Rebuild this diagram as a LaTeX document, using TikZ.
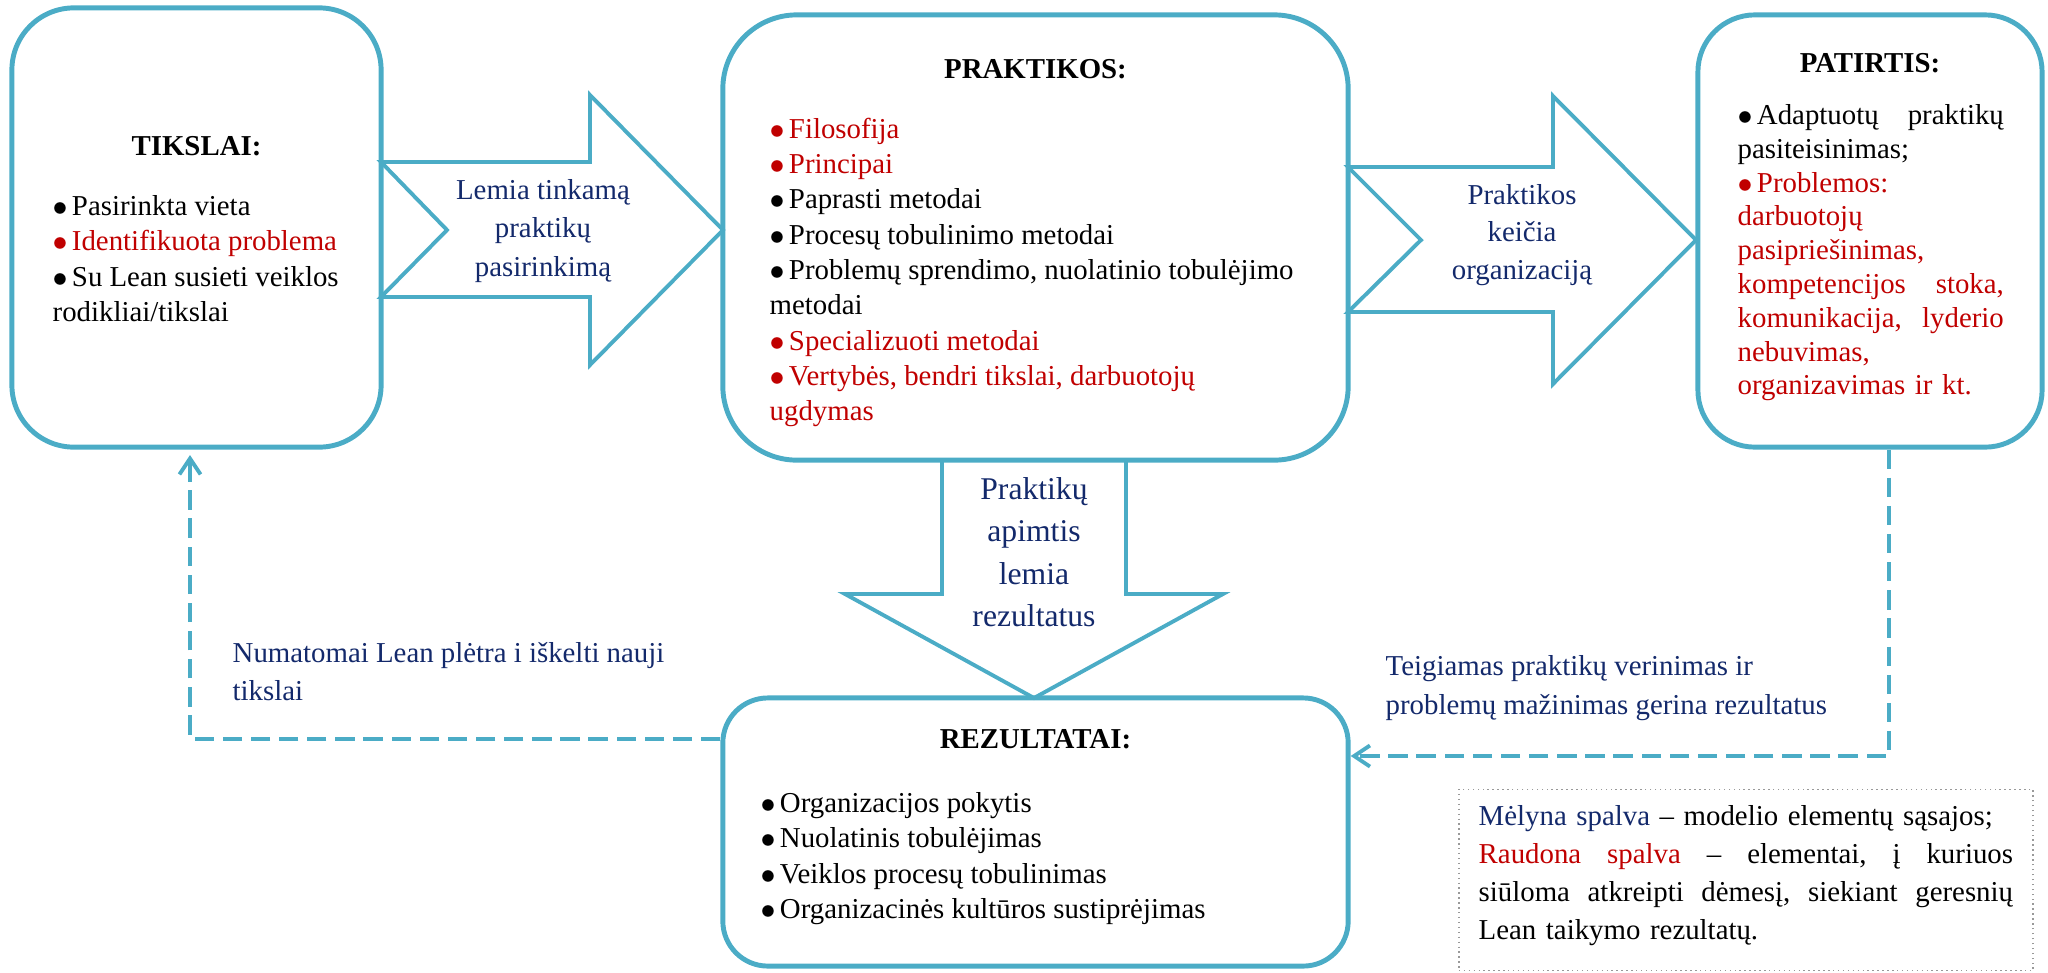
\documentclass[tikz,border=0pt]{standalone}
\usepackage{fontspec}
\setmainfont{Liberation Serif}
\usepackage{xcolor}
\usepackage{tikz}
\usetikzlibrary{arrows.meta,positioning}
\definecolor{boxblue}{HTML}{4BACC6}
\definecolor{linkblue}{HTML}{13296B}
\definecolor{warnred}{HTML}{C00000}
\newcommand{\redtext}[1]{\textcolor{warnred}{#1}}
\newcommand{\bluetext}[1]{\textcolor{linkblue}{#1}}
\newcommand{\blt}{$\bullet$\hspace{0.15em}}

\begin{document}
\begin{tikzpicture}[x=0.01cm, y=-0.01cm,
    box/.style={draw=boxblue, line width=1.4pt, inner sep=0pt},
    blockarrow/.style={draw=boxblue, line width=1.1pt, line join=miter},
    link/.style={draw=boxblue, line width=1.1pt, dash pattern=on 5.5pt off 2.5pt,
      -{Straight Barb[length=4.5pt,width=6pt]}},
    heading/.style={font=\bfseries\fontsize{8.2}{10}\selectfont, inner sep=0pt},
    items/.style={font=\fontsize{8.2}{10}\selectfont, align=left, inner sep=0pt, anchor=north west},
    linklabel/.style={text=linkblue, font=\fontsize{8.2}{10.9}\selectfont, align=center, inner sep=0pt}]

    \useasboundingbox (0,0) rectangle (2048,972);

    \node[box, rounded corners=0.62cm, minimum width=3.69cm, minimum height=4.39cm] (tikslai) at (196.5,227.5) {};
    \node[box, rounded corners=0.74cm, minimum width=6.25cm, minimum height=4.45cm] (praktikos) at (1035.5,237.5) {};
    \node[box, rounded corners=0.57cm, minimum width=3.44cm, minimum height=4.32cm] (patirtis) at (1870,231) {};
    \node[box, rounded corners=0.45cm, minimum width=6.25cm, minimum height=2.68cm] (rezultatai) at (1035.5,832) {};
    \node[draw=black!40, densely dotted, line width=0.4pt, minimum width=5.74cm, minimum height=1.81cm] (legend) at (1746,880) {};

    \node[heading] (tikslaititle) [below=1.30cm of tikslai.north] {TIKSLAI:};
    \node[heading] (praktikostitle) [below=0.46cm of praktikos.north] {PRAKTIKOS:};
    \node[heading] (patirtistitle) [below=0.40cm of patirtis.north] {PATIRTIS:};
    \node[heading] (rezultataititle) [below=0.33cm of rezultatai.north] {REZULTATAI:};

    \node[items] (tikslaiitems) at (52,195) {\blt Pasirinkta vieta\\
      \redtext{\blt Identifikuota problema}\\
      \blt Su Lean susieti veiklos\\
      rodikliai/tikslai};
    \node[items, font=\fontsize{8.2}{10.05}\selectfont] (praktikositems) at (769,117) {\redtext{\blt Filosofija}\\
      \redtext{\blt Principai}\\
      \blt Paprasti metodai\\
      \blt Procesų tobulinimo metodai\\
      \blt Problemų sprendimo, nuolatinio tobulėjimo\\
      metodai\\
      \redtext{\blt Specializuoti metodai}\\
      \redtext{\blt Vertybės, bendri tikslai, darbuotojų}\\
      \redtext{ugdymas}};
    \node[items, text width=2.66cm, font=\fontsize{8.2}{9.6}\selectfont] (patirtisitems) at (1737,104) {\blt Adaptuotų\hfill praktikų\\
      pasiteisinimas;\\
      \redtext{\blt Problemos:}\\
      \redtext{darbuotojų}\\
      \redtext{pasipriešinimas,}\\
      \redtext{kompetencijos}\hfill\redtext{stoka,}\\
      \redtext{komunikacija,}\hfill\redtext{lyderio}\\
      \redtext{nebuvimas,}\\
      \redtext{organizavimas ir kt.}};
    \node[items] (rezultataiitems) at (760,792) {\blt Organizacijos pokytis\\
      \blt Nuolatinis tobulėjimas\\
      \blt Veiklos procesų tobulinimas\\
      \blt Organizacinės kultūros sustiprėjimas};

    \draw[blockarrow] (381,162) -- (590,162) -- (590,95) -- (723,230) -- (590,365) -- (590,297) -- (381,297) -- (447,230) -- cycle;
    \draw[blockarrow] (1348,167) -- (1553,167) -- (1553,96) -- (1696,240) -- (1553,384) -- (1553,312) -- (1348,312) -- (1421,240) -- cycle;
    \draw[blockarrow] (942,460) -- (942,594) -- (845,594) -- (1034,698) -- (1223,594) -- (1126,594) -- (1126,460) -- cycle;

    \node[linklabel] (choice) at (543,231) {Lemia tinkamą\\praktikų\\pasirinkimą};
    \node[linklabel, font=\fontsize{8.2}{10.6}\selectfont] (change) at (1522,235) {Praktikos\\keičia\\organizaciją};
    \node[linklabel, font=\fontsize{9}{12.1}\selectfont] (scope) at (1034,552) {Praktikų\\apimtis\\lemia\\rezultatus};

    \coordinate (leftbend) at (190,738);
    \coordinate (rightbend) at (1889,756);
    \draw[link] (rezultatai.west |- rezultataititle) -| ([yshift=-0.055cm]tikslai.south -| leftbend);
    \draw[link] (patirtis.south -| rightbend) |- (rezultatai.east |- rightbend);

    \node[linklabel, align=left, anchor=north west, font=\fontsize{8.2}{10.8}\selectfont] (newgoals) at (232,642) {Numatomai Lean plėtra i iškelti nauji\\tikslai};
    \node[linklabel, align=left, anchor=north west, font=\fontsize{8.2}{11.1}\selectfont] (feedback) at (1385,655) {Teigiamas praktikų verinimas ir\\problemų mažinimas gerina rezultatus};

    \node[items, text width=5.34cm, font=\fontsize{8.2}{10.8}\selectfont] (legendtext) at (1478,805) {\bluetext{Mėlyna spalva} – modelio elementų sąsajos;\\
      \redtext{Raudona}\hfill\redtext{spalva}\hfill–\hfill elementai,\hfill į\hfill kuriuos\\
      siūloma\hfill atkreipti\hfill dėmesį,\hfill siekiant\hfill geresnių\\
      Lean taikymo rezultatų.};
\end{tikzpicture}
\end{document}
